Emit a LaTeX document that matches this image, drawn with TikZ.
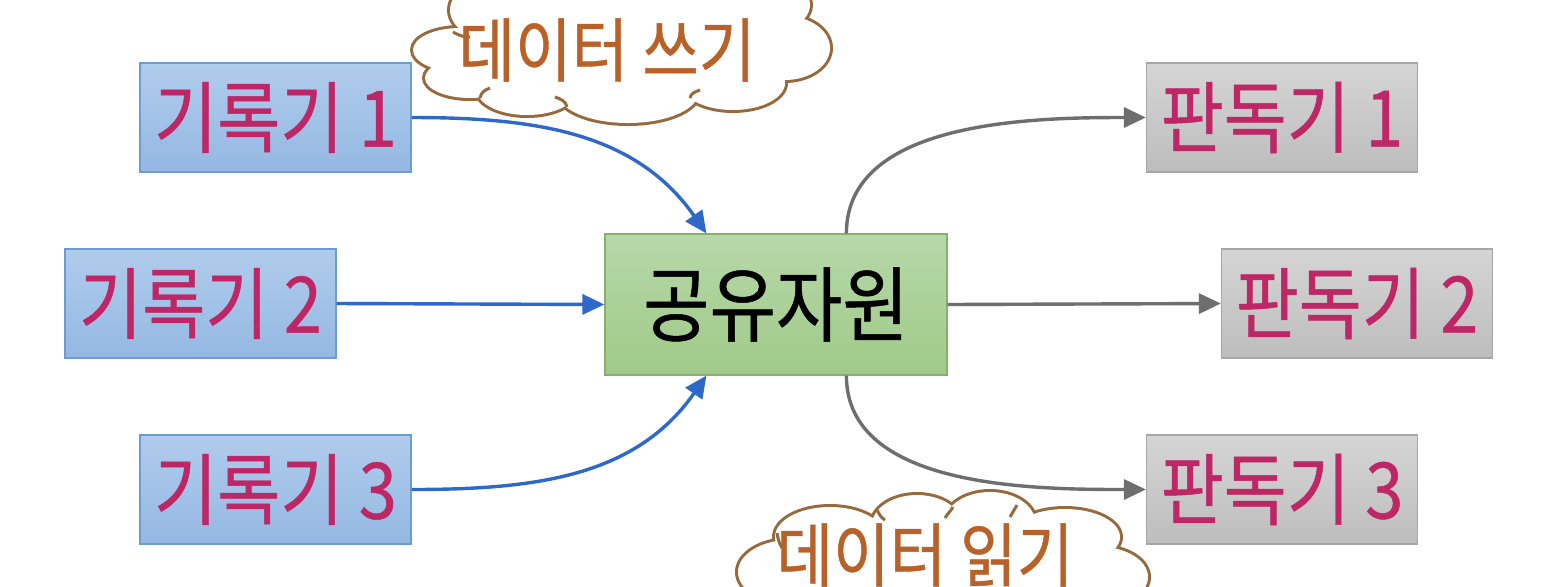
\documentclass[tikz,border=0pt]{standalone}
\usepackage{fontspec}
\newfontfamily\kr[FakeStretch=0.88,FakeBold=0.6]{Noto Sans CJK KR}
\usetikzlibrary{arrows.meta}
\definecolor{bluetop}{HTML}{B0CCEC}
\definecolor{bluebot}{HTML}{94B8E3}
\definecolor{blueline}{HTML}{6C9BD5}
\definecolor{greentop}{HTML}{B7D8A9}
\definecolor{greenbot}{HTML}{9FCA88}
\definecolor{greenline}{HTML}{86B06C}
\definecolor{greytop}{HTML}{D5D5D5}
\definecolor{greybot}{HTML}{BDBDBD}
\definecolor{greyline}{HTML}{A6A6A6}
\definecolor{pinktext}{HTML}{BE2766}
\definecolor{arrowblue}{HTML}{2E68C8}
\definecolor{arrowgrey}{HTML}{6E6E6E}
\definecolor{cloudline}{HTML}{97693C}
\definecolor{cloudtext}{HTML}{B86128}
\tikzset{
  box/.style={rectangle, inner sep=0pt, line width=0.6pt, minimum width=135.5pt, minimum height=54.5pt,
    font=\kr\fontsize{39}{42}\selectfont, text=pinktext},
  writer/.style={box, draw=blueline, top color=bluetop, bottom color=bluebot},
  reader/.style={box, draw=greyline, top color=greytop, bottom color=greybot},
  hub/.style={rectangle, inner sep=0pt, line width=0.6pt, minimum width=171pt, minimum height=70.5pt,
    draw=greenline, top color=greentop, bottom color=greenbot, font=\kr\fontsize{41}{44}\selectfont, text=black},
  wline/.style={draw=arrowblue, line width=1.7pt, -{Triangle[length=11pt,width=10pt]}},
  rline/.style={draw=arrowgrey, line width=1.7pt, -{Triangle[length=11pt,width=10pt]}},
  puffline/.style={draw=cloudline, line width=3pt},
  innerarc/.style={draw=cloudline, line width=1.5pt},
  bubbletext/.style={inner sep=0pt, font=\kr\fontsize{35}{38}\selectfont, text=cloudtext}
}
\newcommand\topcloudpath{
  (460,-50) ellipse [x radius=23.5pt, y radius=11pt]
  (470,-78) ellipse [x radius=22.5pt, y radius=10pt]
  (527,-90) ellipse [x radius=25pt, y radius=12.5pt]
  (628,-93) ellipse [x radius=35pt, y radius=15pt]
  (733,-83) ellipse [x radius=26pt, y radius=13.5pt]
  (785,-48) ellipse [x radius=22.5pt, y radius=16pt]
  (740,-5) ellipse [x radius=35pt, y radius=17.5pt]
  (620,0) ellipse [x radius=40pt, y radius=17.5pt]
  (510,-10) ellipse [x radius=30pt, y radius=17.5pt]
  (622,-50) ellipse [x radius=80pt, y radius=22.5pt]
}
\newcommand\botcloudpath{
  (790,-572) ellipse [x radius=26pt, y radius=16pt]
  (830,-537) ellipse [x radius=27.5pt, y radius=15pt]
  (917,-525) ellipse [x radius=22.5pt, y radius=15pt]
  (990,-522) ellipse [x radius=22.5pt, y radius=15pt]
  (1065,-537) ellipse [x radius=27.5pt, y radius=14pt]
  (1100,-577) ellipse [x radius=24pt, y radius=15pt]
  (940,-595) ellipse [x radius=90pt, y radius=25pt]
  (942,-562) ellipse [x radius=80pt, y radius=20pt]
}
\begin{document}
\begin{tikzpicture}[x=0.5pt,y=0.5pt]
\useasboundingbox (0,0) rectangle (1560,-586);
\clip (0,0) rectangle (1560,-586);
\fill[white] (0,0) rectangle (1560,-586);

\node[writer] (w1) at (275.5,-117.5) {기록기 1};
\node[writer] (w2) at (200.5,-303.5) {기록기 2};
\node[writer] (w3) at (275.5,-489.5) {기록기 3};
\node[hub] (c) at (776,-304.5) {공유자원};
\node[reader] (r1) at (1282,-117.5) {판독기 1};
\node[reader] (r2) at (1357,-303.5) {판독기 2};
\node[reader] (r3) at (1282,-489.5) {판독기 3};

\draw[wline] (w1.east) to[out=0,in=125] ([xshift=51pt]c.north west);
\draw[wline] (w2.east) -- (c.west);
\draw[wline] (w3.east) to[out=0,in=235] ([xshift=51pt]c.south west);
\draw[rline] ([xshift=121pt]c.north west) to[out=90,in=180,looseness=0.9] (r1.west);
\draw[rline] (c.east) -- (r2.west);
\draw[rline] ([xshift=121pt]c.south west) to[out=270,in=180,looseness=0.9] (r3.west);

% cloud "write"
\path[puffline] \topcloudpath;
\fill[white] \topcloudpath;
\path[innerarc] (453,-32) to[out=-30,in=180] (470,-37);
\path[innerarc] (480,-98) to[out=80,in=200] (490,-88);
\path[innerarc] (567,-107) to[out=100,in=-20] (555,-97);
\path[innerarc] (690,-98) to[out=80,in=200] (700,-90);
\node[bubbletext] (t1) at (607,-50) {데이터 쓰기};

% cloud "read"
\path[puffline] \botcloudpath;
\fill[white] \botcloudpath;
\path[innerarc] (777,-533) to[out=-80,in=120] (782,-548);
\path[innerarc] (877,-510) to[out=-60,in=150] (885,-520);
\path[innerarc] (953,-507) to[out=-120,in=60] (945,-518);
\path[innerarc] (1017,-505) to[out=-120,in=60] (1010,-517);
\node[bubbletext] (t2) at (925,-555) {데이터 읽기};
\end{tikzpicture}
\end{document}
